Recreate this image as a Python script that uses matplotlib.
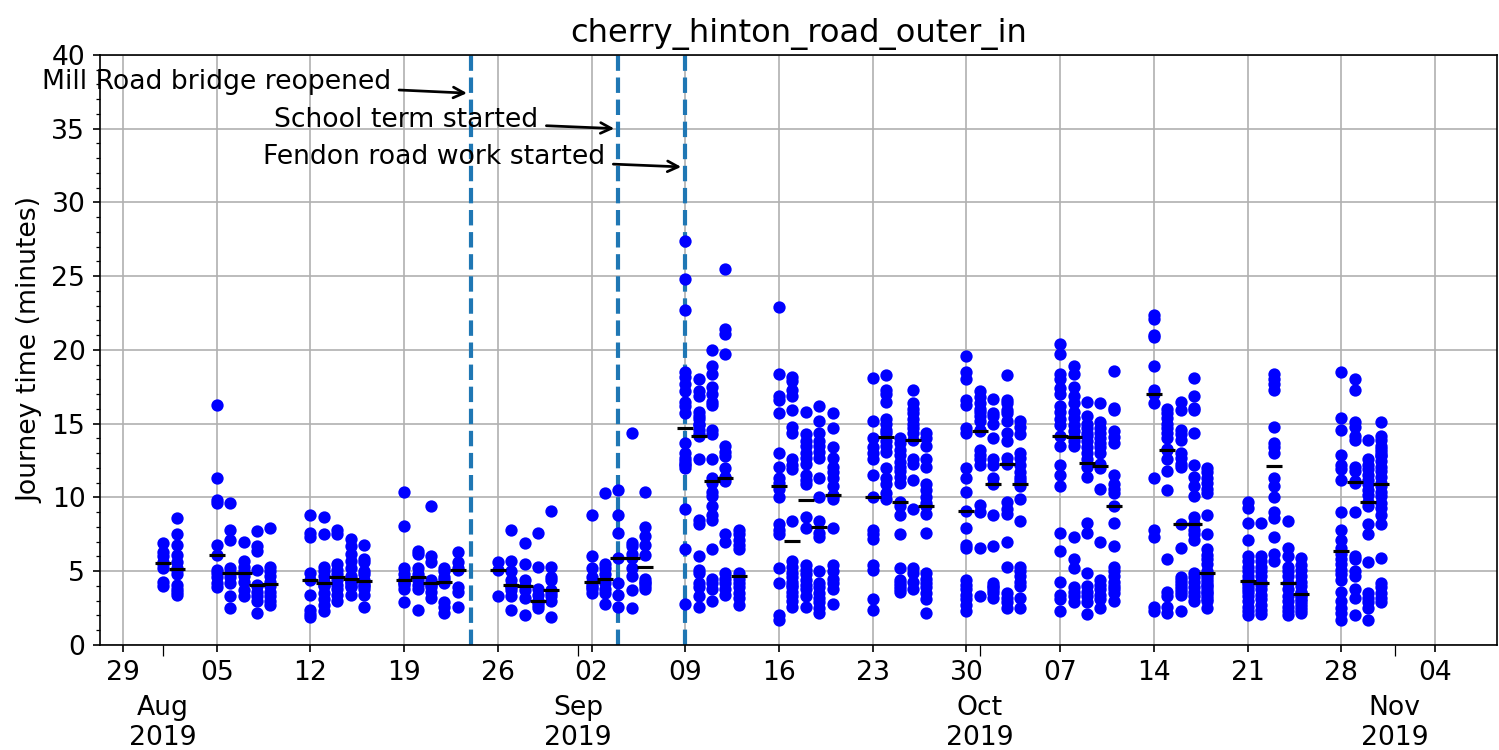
import matplotlib
matplotlib.use("Agg")
import matplotlib.pyplot as plt
import matplotlib.dates as mdates
from matplotlib.ticker import MultipleLocator
import numpy as np
import datetime as dt

# ---- data: journey times (minutes) per weekday ----
wk0729_days = ["2019-08-01", "2019-08-02"]
wk0729_times = [
    [6.9, 6.3, 6.0, 5.6, 5.5, 5.2, 4.3, 4.0],
    [8.6, 7.5, 6.8, 6.1, 5.6, 5.2, 5.1, 4.8, 4.1, 3.8, 3.6, 3.4],
]
wk0805_days = ["2019-08-05", "2019-08-06", "2019-08-07", "2019-08-08", "2019-08-09"]
wk0805_times = [
    [16.3, 11.3, 9.8, 9.6, 6.8, 6.1, 5.1, 4.9, 4.6, 4.2, 3.9],
    [9.6, 7.8, 7.1, 5.2, 4.9, 4.6, 4.2, 3.3, 2.5],
    [7.0, 5.7, 5.3, 5.0, 4.7, 4.3, 3.7, 3.3],
    [7.7, 6.7, 6.4, 5.1, 4.1, 4.0, 3.6, 3.3, 3.0, 2.2],
    [7.9, 5.3, 5.0, 4.7, 4.3, 4.0, 3.6, 3.3, 3.0, 2.7],
]
wk0812_days = ["2019-08-12", "2019-08-13", "2019-08-14", "2019-08-15", "2019-08-16"]
wk0812_times = [
    [8.8, 7.6, 7.3, 4.9, 4.4, 3.4, 2.4, 2.1, 1.9],
    [8.7, 7.5, 5.3, 5.0, 4.7, 4.3, 4.1, 4.0, 3.5, 3.1, 2.7, 2.3],
    [7.8, 7.5, 5.5, 5.1, 4.8, 4.4, 4.1, 3.8, 3.4, 3.0],
    [7.2, 6.7, 6.2, 5.7, 5.2, 4.7, 4.5, 4.4, 4.3, 4.2, 4.0, 3.9, 3.4],
    [6.8, 5.8, 5.6, 5.0, 4.8, 4.4, 4.3, 4.1, 4.0, 3.8, 3.4, 2.6],
]
wk0819_days = ["2019-08-19", "2019-08-20", "2019-08-21", "2019-08-22", "2019-08-23"]
wk0819_times = [
    [10.4, 8.1, 5.2, 4.8, 4.5, 4.3, 4.2, 4.1, 3.8, 2.9],
    [6.4, 6.2, 5.2, 4.8, 4.6, 4.4, 4.1, 3.8, 2.4],
    [9.4, 6.0, 5.6, 4.4, 4.2, 4.1, 3.9, 3.6, 3.2],
    [5.2, 5.0, 4.6, 4.4, 4.2, 2.9, 2.6, 2.2],
    [6.3, 5.6, 5.2, 5.1, 3.9, 3.6, 2.6],
]
wk0826_days = ["2019-08-26", "2019-08-27", "2019-08-28", "2019-08-29", "2019-08-30"]
wk0826_times = [
    [5.6, 5.1, 3.3],
    [7.8, 5.7, 5.0, 4.4, 4.1, 4.0, 3.9, 3.7, 3.3, 2.4],
    [6.9, 5.5, 4.4, 4.0, 3.7, 3.2, 2.0],
    [7.6, 5.3, 3.8, 3.4, 3.0, 3.0, 2.9, 2.7, 2.5],
    [9.1, 5.3, 4.6, 4.4, 3.7, 3.5, 3.3, 3.0, 1.9],
]
wk0902_days = ["2019-09-02", "2019-09-03", "2019-09-04", "2019-09-05", "2019-09-06"]
wk0902_times = [
    [8.8, 6.0, 5.2, 4.6, 4.3, 4.1, 3.9, 3.8, 3.5],
    [10.3, 5.5, 5.2, 4.8, 4.5, 4.2, 3.8, 3.5, 2.8],
    [10.5, 8.8, 7.6, 5.9, 4.2, 3.4, 2.6],
    [14.4, 6.9, 6.7, 6.2, 5.9, 5.2, 4.7, 3.7, 2.5],
    [10.4, 8.0, 7.4, 6.8, 6.1, 4.5, 4.3, 4.2, 4.0, 3.8],
]
wk0909_days = ["2019-09-09", "2019-09-10", "2019-09-11", "2019-09-12", "2019-09-13"]
wk0909_times = [
    [27.4, 24.8, 22.7, 18.5, 18.2, 17.7, 17.2, 16.5, 16.2, 15.7, 13.7, 13.0, 12.7, 12.5, 12.3, 12.2, 12.0, 9.2, 6.5, 2.8],
    [18.0, 17.2, 16.9, 15.8, 15.5, 15.3, 15.0, 14.9, 14.6, 14.3, 14.2, 12.6, 8.5, 8.2, 6.0, 5.1, 4.9, 4.2, 3.9, 3.3, 2.6],
    [20.0, 18.9, 18.4, 17.5, 17.0, 16.5, 16.3, 14.6, 14.3, 12.6, 11.3, 11.0, 10.4, 10.1, 9.4, 8.8, 8.5, 6.5, 4.5, 4.2, 3.8, 3.0],
    [25.5, 21.4, 21.1, 19.7, 13.5, 13.1, 12.8, 12.0, 11.4, 11.3, 11.1, 7.5, 7.0, 4.9, 4.5, 4.2, 3.8, 3.4],
    [7.8, 7.5, 7.1, 6.8, 6.5, 4.9, 4.5, 4.2, 3.9, 3.5, 3.2, 2.7],
]
wk0916_days = ["2019-09-16", "2019-09-17", "2019-09-18", "2019-09-19", "2019-09-20"]
wk0916_times = [
    [22.9, 18.4, 16.9, 16.6, 15.7, 13.0, 12.1, 11.3, 11.0, 10.6, 10.0, 8.2, 7.8, 7.5, 5.2, 4.2, 2.0, 1.7],
    [18.2, 17.9, 17.3, 16.9, 15.9, 14.8, 14.4, 12.6, 12.2, 11.9, 8.4, 5.7, 5.3, 4.9, 4.6, 4.3, 4.1, 3.9, 3.6, 3.3, 3.0, 2.6],
    [15.8, 14.3, 13.8, 13.5, 13.0, 12.7, 12.3, 11.5, 11.2, 10.9, 8.7, 7.9, 5.4, 5.1, 4.8, 4.4, 4.1, 3.8, 3.3, 2.6],
    [16.2, 15.2, 14.4, 13.8, 13.5, 13.1, 12.7, 11.3, 10.0, 8.4, 7.6, 7.3, 5.0, 4.2, 3.9, 3.5, 3.2, 2.9, 2.5, 2.2],
    [15.7, 14.7, 13.4, 12.7, 12.1, 11.7, 11.3, 10.8, 10.2, 10.1, 9.9, 7.9, 5.4, 5.0, 4.5, 4.2, 3.8, 2.8],
]
wk0923_days = ["2019-09-23", "2019-09-24", "2019-09-25", "2019-09-26", "2019-09-27"]
wk0923_times = [
    [18.1, 15.2, 14.0, 13.4, 13.0, 12.6, 11.5, 10.0, 7.8, 7.5, 7.2, 5.4, 5.1, 3.1, 2.4],
    [18.3, 17.3, 17.0, 16.5, 15.3, 15.0, 14.6, 14.4, 13.8, 13.5, 13.1, 12.0, 11.3, 10.9, 10.3, 9.9],
    [14.0, 13.7, 13.2, 12.9, 12.4, 12.1, 11.8, 11.4, 11.0, 9.7, 9.4, 8.8, 7.5, 5.2, 4.4, 4.2, 4.0, 3.8, 3.6],
    [17.3, 16.4, 16.0, 15.7, 15.3, 15.0, 14.7, 14.4, 13.9, 12.6, 12.3, 11.2, 9.2, 5.2, 4.9, 4.3, 3.8],
    [14.4, 14.0, 13.5, 12.6, 12.1, 10.9, 10.5, 10.0, 9.6, 9.4, 8.9, 7.6, 4.9, 4.5, 4.2, 3.9, 3.5, 3.1, 2.2],
]
wk0930_days = ["2019-09-30", "2019-10-01", "2019-10-02", "2019-10-03", "2019-10-04"]
wk0930_times = [
    [19.6, 18.5, 18.0, 16.6, 16.3, 14.7, 14.4, 12.0, 11.3, 10.4, 9.1, 7.9, 6.8, 6.6, 4.4, 4.1, 3.8, 3.4, 3.1, 2.7, 2.3],
    [17.2, 16.8, 16.4, 16.0, 15.8, 15.5, 15.2, 14.6, 14.5, 13.2, 12.9, 12.6, 12.2, 9.5, 9.0, 6.6, 3.3],
    [16.7, 15.7, 15.5, 15.0, 14.0, 12.6, 12.2, 11.3, 10.9, 8.8, 6.7, 4.2, 4.0, 3.9, 3.7, 3.5, 3.2],
    [18.3, 16.6, 16.4, 15.9, 15.7, 15.2, 14.4, 13.8, 12.7, 12.3, 9.7, 9.2, 8.9, 7.0, 5.3, 3.5, 3.2, 2.9, 2.5],
    [15.2, 14.8, 14.3, 13.0, 12.7, 12.2, 11.7, 11.4, 11.2, 11.0, 10.8, 9.9, 8.4, 5.3, 5.0, 4.7, 4.3, 4.0, 3.2, 2.5],
]
wk1007_days = ["2019-10-07", "2019-10-08", "2019-10-09", "2019-10-10", "2019-10-11"]
wk1007_times = [
    [20.4, 19.7, 18.4, 18.0, 17.4, 17.0, 16.2, 15.8, 15.3, 14.9, 14.2, 13.5, 12.2, 11.5, 10.8, 7.6, 6.4, 4.3, 3.4, 3.1, 2.3],
    [18.9, 18.4, 17.5, 16.9, 16.4, 15.8, 15.4, 14.9, 14.5, 14.1, 13.8, 13.5, 7.3, 5.8, 5.2, 3.9, 3.6, 3.3, 2.9],
    [16.5, 15.5, 15.0, 14.7, 14.4, 14.2, 13.8, 13.4, 13.0, 12.6, 12.1, 11.4, 8.3, 7.6, 4.9, 4.0, 3.6, 3.3, 2.9, 2.1],
    [16.4, 15.1, 14.7, 14.4, 14.0, 13.7, 13.4, 13.0, 12.3, 12.0, 10.6, 7.0, 4.4, 4.1, 3.8, 3.4, 3.1, 2.5],
    [18.6, 16.1, 15.9, 14.5, 14.1, 13.7, 11.5, 10.9, 10.6, 10.3, 9.4, 8.3, 6.7, 5.3, 5.0, 4.7, 4.3, 4.0, 3.8, 3.5, 3.0],
]
wk1014_days = ["2019-10-14", "2019-10-15", "2019-10-16", "2019-10-17", "2019-10-18"]
wk1014_times = [
    [22.4, 22.1, 21.0, 20.9, 18.9, 17.3, 17.0, 16.4, 11.3, 7.8, 7.3, 2.6, 2.3],
    [16.0, 15.7, 15.4, 15.0, 14.7, 14.4, 14.0, 13.3, 13.2, 12.6, 11.8, 10.5, 5.8, 3.6, 3.3, 2.6, 2.2],
    [16.5, 15.9, 14.6, 14.3, 13.9, 13.0, 12.7, 12.3, 12.1, 8.2, 6.6, 4.6, 4.4, 4.2, 4.0, 3.8, 3.6, 3.4, 2.3],
    [18.1, 16.9, 16.1, 15.9, 14.4, 12.2, 11.4, 10.8, 10.1, 8.7, 8.2, 7.8, 7.5, 7.1, 4.9, 4.6, 4.3, 3.9, 3.6, 3.3, 3.0],
    [12.0, 11.7, 11.3, 11.0, 10.6, 10.3, 8.8, 7.5, 6.5, 6.1, 5.8, 5.5, 5.0, 4.8, 4.7, 4.5, 4.3, 4.1, 4.0, 3.8, 3.6, 3.5, 3.3, 3.1, 3.0, 2.5],
]
wk1021_days = ["2019-10-21", "2019-10-22", "2019-10-23", "2019-10-24", "2019-10-25"]
wk1021_times = [
    [9.7, 9.3, 8.3, 7.1, 6.0, 5.7, 5.3, 5.0, 4.7, 4.4, 4.3, 4.2, 4.0, 3.8, 3.6, 3.3, 3.0, 2.6, 2.3, 2.0],
    [8.3, 6.0, 5.7, 5.3, 5.0, 4.7, 4.3, 4.1, 3.8, 3.4, 3.1, 2.7, 2.4, 2.1],
    [18.4, 18.0, 17.7, 17.3, 14.8, 13.7, 13.4, 13.0, 11.3, 10.8, 10.0, 9.0, 8.6, 7.3, 6.2, 5.7],
    [8.4, 6.6, 6.0, 5.3, 5.0, 4.7, 4.2, 3.8, 3.3, 3.0, 2.6, 2.3, 2.0],
    [5.9, 5.4, 5.1, 4.7, 4.3, 4.0, 3.6, 3.5, 3.4, 3.3, 3.1, 3.0, 2.8, 2.6, 2.4, 2.2],
]
wk1028_days = ["2019-10-28", "2019-10-29", "2019-10-30", "2019-10-31"]
wk1028_times = [
    [18.5, 15.4, 14.6, 12.9, 12.2, 11.9, 11.2, 9.0, 7.8, 7.1, 6.6, 6.2, 5.8, 5.5, 5.1, 4.8, 4.4, 3.6, 3.0, 2.5, 2.2, 1.7],
    [18.0, 17.3, 15.1, 14.8, 14.2, 13.9, 12.1, 11.8, 11.1, 11.0, 9.0, 6.0, 5.8, 5.0, 4.7, 3.8, 3.2, 2.0],
    [13.9, 12.6, 12.2, 11.9, 11.5, 11.2, 10.9, 10.5, 10.2, 9.7, 9.4, 8.2, 7.5, 5.6, 3.5, 3.2, 2.9, 2.5, 1.7],
    [15.1, 14.2, 13.9, 13.5, 13.3, 13.1, 12.9, 12.8, 12.5, 12.1, 11.8, 11.4, 11.0, 10.8, 10.4, 10.1, 9.6, 9.3, 8.8, 8.2, 5.9, 4.2, 3.9, 3.5, 3.2, 2.9],
]

event_dates = ["2019-08-24", "2019-09-04", "2019-09-09"]
event_labels = ["Mill Road bridge reopened", "School term started", "Fendon road work started"]

title = "cherry_hinton_road_outer_in"
ylabel = "Journey time (minutes)"

# ---- assemble ----
all_days = (wk0729_days + wk0805_days + wk0812_days + wk0819_days + wk0826_days +
            wk0902_days + wk0909_days + wk0916_days + wk0923_days + wk0930_days +
            wk1007_days + wk1014_days + wk1021_days + wk1028_days)
all_times = (wk0729_times + wk0805_times + wk0812_times + wk0819_times + wk0826_times +
             wk0902_times + wk0909_times + wk0916_times + wk0923_times + wk0930_times +
             wk1007_times + wk1014_times + wk1021_times + wk1028_times)

plt.rcParams["font.family"] = "DejaVu Sans"
plt.rcParams["font.size"] = 12.8

fig = plt.figure(figsize=(1499 / 150, 5), dpi=150)
ax = fig.add_axes([100 / 1499, 0.14, 1397 / 1499, 0.7867])

def d(s):
    return dt.datetime.strptime(s, "%Y-%m-%d")

for day, vals in zip(all_days, all_times):
    x = d(day)
    ax.plot([x] * len(vals), vals, "o", color="blue", markersize=4.9, zorder=3)
    ax.plot([x], [np.median(vals)], "_", color="black", markersize=8,
            markeredgewidth=1.5, zorder=4)

text_y = [38.2, 35.6, 33.1]
head_y = [37.4, 35.0, 32.4]
for ed, lab, ty, hy in zip(event_dates, event_labels, text_y, head_y):
    x = d(ed)
    ax.axvline(x, color="tab:blue", linestyle="--", linewidth=2.0, zorder=2)
    ax.annotate(lab, xy=(x, hy), xytext=(x - dt.timedelta(days=6), ty),
                ha="right", va="center",
                arrowprops=dict(arrowstyle="->", color="black", lw=1.3))

ax.set_ylim(0, 40)
ax.yaxis.set_major_locator(MultipleLocator(5))
ax.yaxis.set_minor_locator(MultipleLocator(1))

left = mdates.date2num(dt.datetime(2019, 7, 27)) + 0.28
right = mdates.date2num(dt.datetime(2019, 11, 8)) + 0.63
ax.set_xlim(left, right)
ax.xaxis.set_major_locator(mdates.WeekdayLocator(byweekday=mdates.MO))
ax.xaxis.set_major_formatter(mdates.DateFormatter("%d"))
ax.xaxis.set_minor_locator(mdates.MonthLocator())
ax.xaxis.set_minor_formatter(mdates.DateFormatter("%b\n%Y"))
ax.tick_params(axis="x", which="minor", length=5.5, pad=18.5)

ax.grid(True, which="major", color="#b0b0b0", linewidth=0.8)
ax.set_axisbelow(True)
ax.set_title(title, fontsize=15.4)
ax.set_ylabel(ylabel)

fig.savefig("out.png", dpi=150)
